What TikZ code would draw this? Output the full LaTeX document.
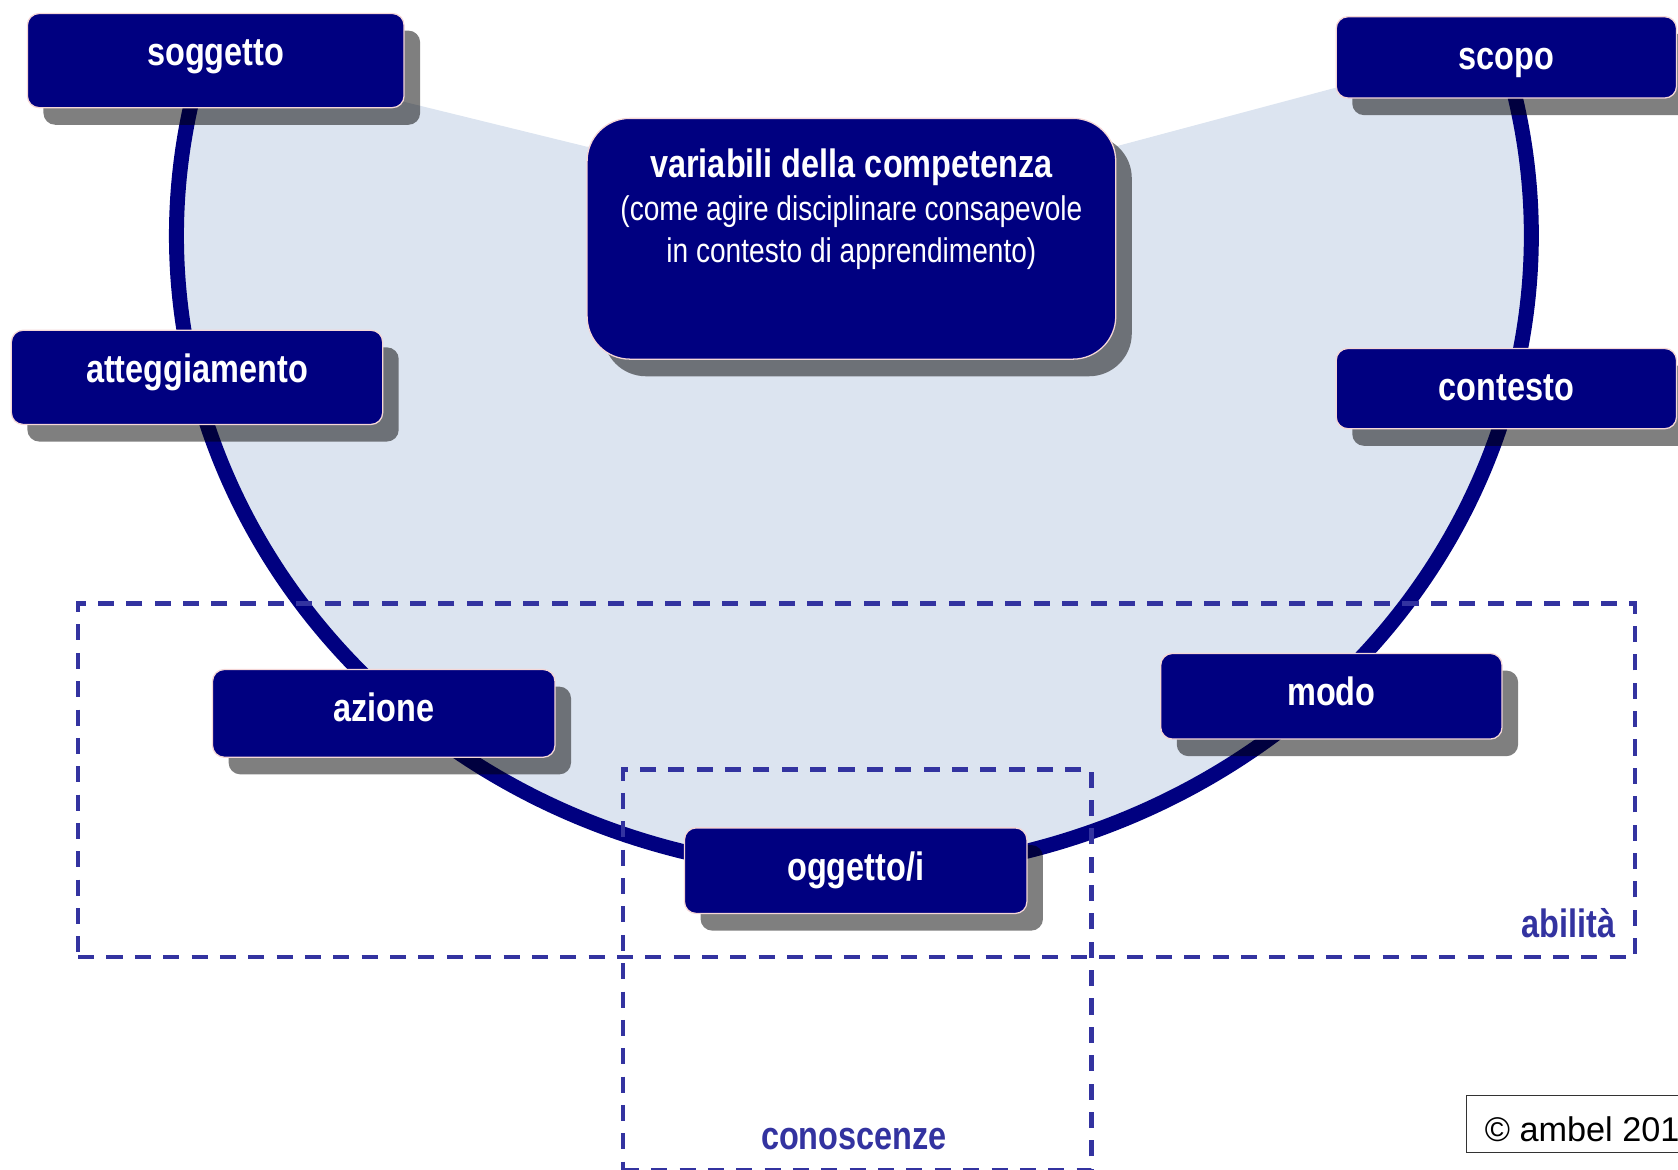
\documentclass[tikz,border=0pt]{standalone}
\usepackage{fontspec}
\setmainfont{Liberation Sans}
\newfontfamily\narrowfont[FakeStretch=0.82]{Liberation Sans}
\usetikzlibrary{shadows,calc}
\definecolor{navy}{RGB}{0,0,128}
\definecolor{bgblue}{RGB}{220,228,240}
\definecolor{dashblue}{RGB}{51,51,160}
\definecolor{rim}{RGB}{245,215,215}
\begin{document}
\begin{tikzpicture}[x=1pt,y=-1pt,
  shadowed/.style={drop shadow={shadow xshift=15pt, shadow yshift=-16pt, opacity=0.5, fill=black}},
  labelbox/.style={rectangle, rounded corners=11pt, fill=navy, draw=rim, line width=1.2pt,
    inner sep=0pt, anchor=north west, text=white,
    font=\narrowfont\bfseries\fontsize{37}{40}\selectfont, text height=49pt, shadowed},
  bigbox/.style={rectangle, rounded corners=40pt, fill=navy, draw=rim, line width=1.2pt,
    inner sep=0pt, anchor=north west, shadowed},
  titletext/.style={anchor=base, text=white, inner sep=0pt, font=\narrowfont\bfseries\fontsize{37}{40}\selectfont},
  subtext/.style={anchor=base, text=white, inner sep=0pt, font=\narrowfont\fontsize{32}{36}\selectfont},
  dashbox/.style={rectangle, draw=dashblue, line width=4pt, dash pattern=on 15pt off 11.5pt,
    inner sep=0pt, anchor=north west},
  grouplabel/.style={text=dashblue, inner sep=0pt, font=\narrowfont\bfseries\fontsize{37}{40}\selectfont},
  ring/.style={draw=navy, line width=14pt}
]
\useasboundingbox (0,0) rectangle (1568,1093);
\clip (0,0) rectangle (1568,1093);

\coordinate (ec) at (798,220);
% light background region
\fill[bgblue] ($(ec)+(195.6:633 and 595)$) arc[start angle=195.6, end angle=-15.6, x radius=633, y radius=595]
  -- (1248,82) -- (1042,137) -- (548,137) -- (377,95) -- cycle;
% the ring
\draw[ring] ($(ec)+(195.6:633 and 595)$) arc[start angle=195.6, end angle=-15.6, x radius=633, y radius=595];

% dashed groups
\node[dashbox, minimum width=1455pt, minimum height=330pt] (abil) at (71,562) {};
\node[dashbox, minimum width=438pt, minimum height=374pt] (conosc) at (580,717) {};
\node[grouplabel, anchor=base east] (abiltext) at (1510,876) {abilità};
\node[grouplabel, anchor=base] (conosctext) at (798,1074) {conoscenze};

% central box
\node[bigbox, minimum width=494pt, minimum height=225pt] (var) at (548,110) {};
\node[titletext] (vt1) at ($(var.north)+(0,56)$) {variabili della competenza};
\node[subtext] (vt2) at ($(var.north)+(0,96)$) {(come agire disciplinare consapevole};
\node[subtext] (vt3) at ($(var.north)+(0,135)$) {in contesto di apprendimento)};

% label boxes
\node[labelbox, minimum width=352pt, text depth=39pt] (sogg) at (25,12) {soggetto};
\node[labelbox, minimum width=318pt, text depth=27pt] (scopo) at (1248,15) {scopo};
\node[labelbox, minimum width=347pt, text depth=39pt] (att) at (10,308) {atteggiamento};
\node[labelbox, minimum width=318pt, text depth=26pt] (cont) at (1248,325) {contesto};
\node[labelbox, minimum width=320pt, text depth=33pt] (az) at (198,625) {azione};
\node[labelbox, minimum width=319pt, text depth=31pt] (modo) at (1084,610) {modo};
\node[labelbox, minimum width=320pt, text depth=31pt] (ogg) at (639,773) {oggetto/i};

% copyright
\node[draw=black!80, line width=1pt, anchor=north west, inner xsep=17pt, inner ysep=0pt,
  text height=43pt, text depth=10pt, font=\fontsize{32}{36}\selectfont] (copy) at (1370,1023) {© ambel 201};
\end{tikzpicture}
\end{document}
